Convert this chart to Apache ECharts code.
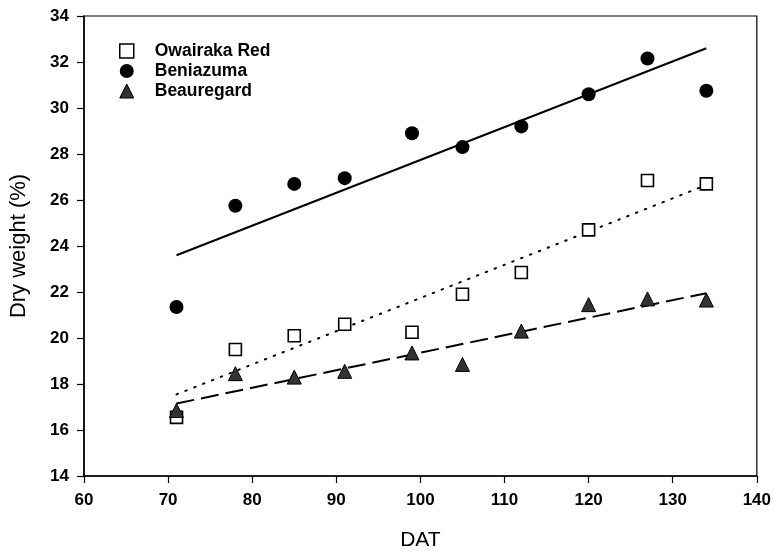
<!DOCTYPE html>
<html><head><meta charset="utf-8">
<script src="https://cdn.jsdelivr.net/npm/echarts@6/dist/echarts.min.js"></script>
<style>html,body{margin:0;padding:0;background:#fff}#c{width:774px;height:556px}</style>
</head><body><div id="c"></div>
<script>
const dat = [71, 78, 85, 91, 99, 105, 112, 120, 127, 134];
const owairaka = [16.55, 19.5, 20.1, 20.6, 20.25, 21.9, 22.85, 24.7, 26.85, 26.7];
const beniazuma = [21.35, 25.75, 26.7, 26.95, 28.9, 28.3, 29.2, 30.6, 32.15, 30.75];
const beauregard = [16.85, 18.45, 18.3, 18.55, 19.35, 18.85, 20.3, 21.45, 21.7, 21.65];
const fitX = [71, 134];
const fitOwairaka = [17.55, 26.65];
const fitBeniazuma = [23.6, 32.6];
const fitBeauregard = [17.15, 21.95];
const xTicks = [60, 70, 80, 90, 100, 110, 120, 130, 140];
const yTicks = [14, 16, 18, 20, 22, 24, 26, 28, 30, 32, 34];

const pair = (xs, ys) => xs.map((x, i) => [x, ys[i]]);
const font = 'Liberation Sans, Arial, sans-serif';
const chart = echarts.init(document.getElementById('c'), null, {renderer: 'canvas'});
chart.setOption({
  animation: false,
  backgroundColor: '#fff',
  grid: {left: 83, right: 16, top: 16, bottom: 73, show: true, borderColor: '#000', borderWidth: 1.2, backgroundColor: 'transparent'},
  legend: {
    left: 114, top: 37, orient: 'vertical', itemGap: 2, itemWidth: 14, itemHeight: 14,
    textStyle: {fontFamily: font, fontWeight: 'bold', fontSize: 17.5, color: '#000', padding: [0, 0, 0, 16]},
    data: [
      {name: 'Owairaka Red', icon: 'rect', itemStyle: {color: '#fff', borderColor: '#000', borderWidth: 1.5, opacity: 1}},
      {name: 'Beniazuma', icon: 'circle', itemStyle: {color: '#000', opacity: 1}},
      {name: 'Beauregard', icon: 'triangle', itemStyle: {color: '#333', borderColor: '#000', borderWidth: 1, opacity: 1}}
    ]
  },
  xAxis: {
    type: 'value', min: 60, max: 140, interval: 10,
    name: 'DAT', nameLocation: 'middle', nameGap: 54,
    nameTextStyle: {fontFamily: font, fontSize: 21, color: '#000'},
    axisLine: {lineStyle: {color: '#000', width: 1.5}},
    axisTick: {show: true, inside: false, length: 7, lineStyle: {color: '#000', width: 1.2}},
    axisLabel: {fontFamily: font, fontWeight: 'bold', fontSize: 17, color: '#000', margin: 16,
      formatter: v => xTicks.includes(v) ? String(v) : ''},
    splitLine: {show: false}
  },
  yAxis: {
    type: 'value', min: 14, max: 34, interval: 2,
    name: 'Dry weight (%)', nameLocation: 'middle', nameGap: 54,
    nameTextStyle: {fontFamily: font, fontSize: 22, color: '#000'},
    axisLine: {show: true, lineStyle: {color: '#000', width: 1.5}},
    axisTick: {show: true, inside: false, length: 7, lineStyle: {color: '#000', width: 1.2}},
    axisLabel: {fontFamily: font, fontWeight: 'bold', fontSize: 17, color: '#000', margin: 15,
      formatter: v => yTicks.includes(v) ? String(v) : ''},
    splitLine: {show: false}
  },
  series: [
    {name: 'Owairaka Red', type: 'scatter', data: pair(dat, owairaka), symbol: 'rect', symbolSize: 12, z: 5,
      itemStyle: {color: '#fff', borderColor: '#000', borderWidth: 1.6, opacity: 1}},
    {name: 'Beniazuma', type: 'scatter', data: pair(dat, beniazuma), symbol: 'circle', symbolSize: 14, z: 5,
      itemStyle: {color: '#000', opacity: 1}},
    {name: 'Beauregard', type: 'scatter', data: pair(dat, beauregard), symbol: 'triangle', symbolSize: 14, z: 5,
      itemStyle: {color: '#333', borderColor: '#000', borderWidth: 1, opacity: 1}},
    {name: 'fitO', type: 'line', data: pair(fitX, fitOwairaka), symbol: 'none', z: 3,
      lineStyle: {color: '#000', width: 2, type: [1.5, 8], cap: 'round'}},
    {name: 'fitB', type: 'line', data: pair(fitX, fitBeniazuma), symbol: 'none', z: 3,
      lineStyle: {color: '#000', width: 2}},
    {name: 'fitR', type: 'line', data: pair(fitX, fitBeauregard), symbol: 'none', z: 3,
      lineStyle: {color: '#000', width: 2, type: [18, 7]}}
  ]
});
</script></body></html>
